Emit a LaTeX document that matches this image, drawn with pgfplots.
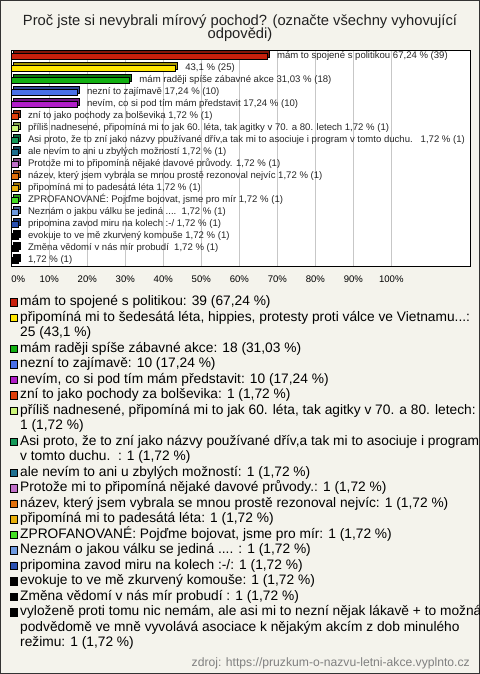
\documentclass[border=0pt]{standalone}
\usepackage{fontspec}
\setmainfont{Liberation Sans}
\usepackage{pgfplots}
\pgfplotsset{compat=1.18}
\definecolor{bg}{HTML}{F4F3EC}
\definecolor{c1}{HTML}{C8200C}
\definecolor{c2}{HTML}{FFE600}
\definecolor{c3}{HTML}{12B012}
\definecolor{c4}{HTML}{4A70E8}
\definecolor{c5}{HTML}{B01EC8}
\definecolor{c6}{HTML}{E0400C}
\definecolor{c7}{HTML}{CCF57A}
\definecolor{c8}{HTML}{159A5A}
\definecolor{c9}{HTML}{1F7090}
\definecolor{c10}{HTML}{C070C8}
\definecolor{c11}{HTML}{E0700C}
\definecolor{c12}{HTML}{E8B00C}
\definecolor{c13}{HTML}{44E024}
\definecolor{c14}{HTML}{6E9AE0}
\definecolor{c15}{HTML}{2A50B0}
\definecolor{c16}{HTML}{000000}
\begin{document}
\begin{tikzpicture}
\path[use as bounding box] (0,0) rectangle (480bp,-674bp);
\fill[bg] (0,0) rectangle (480bp,-674bp);
\draw[line width=1bp, color=black!80] (0.5bp,-0.5bp) rectangle (479.5bp,-673.5bp);
\node[anchor=base, inner sep=0pt, font=\fontsize{14.8}{15}\selectfont, text=black!87] at (240bp,-25bp) {Proč jste si nevybrali mírový pochod? (označte všechny vyhovující};
\node[anchor=base, inner sep=0pt, font=\fontsize{14.8}{15}\selectfont, text=black!87] at (240bp,-38.5bp) {odpovědi)};
\begin{axis}[
  at={(11.3bp,-50bp)}, anchor=north west,
  scale only axis, width=458.7bp, height=216bp,
  xmin=0, xmax=120.7, ymin=0.5, ymax=18.5, y dir=reverse,
  axis background/.style={fill=white},
  axis line style={draw=black, line width=0.9bp},
  xmajorgrids, grid style={draw=black!22, line width=0.8bp},
  xtick={0,10,...,100},
  xticklabels={\makebox[0pt][l]{0\%},10\%,20\%,30\%,40\%,50\%,60\%,70\%,80\%,90\%,100\%},
  xticklabel style={anchor=base, yshift=-16.5bp, inner sep=0pt, font=\fontsize{9.6}{11}\selectfont},
  ytick=\empty, major tick length=0pt,
  clip=false,
  /pgf/number format/assume math mode=true,
  legend cell align=left,
  legend style={at={(axis description cs:-0.00283,-0.1308)}, anchor=north west, draw=none, fill=none, inner sep=0pt, row sep=0pt, column sep=2.2bp, font=\fontsize{13.8}{15}\selectfont, nodes={inner sep=0pt, text height=11.5bp, text depth=4bp, anchor=west}},
  legend image code/.code={\draw[#1, draw=black, line width=0.6bp] (0bp,-3.6bp) rectangle (7.2bp,3.6bp);},
  every node near coord/.append style={anchor=west, inner sep=0pt, xshift=10bp, text height=7bp, text depth=2bp, font=\fontsize{9.6}{11}\selectfont, text=black!85},
  barstyle/.style={xbar, bar width=6.4bp, bar shift=0pt, draw=black, line width=0.5bp},
  shadow/.style={barstyle, forget plot, fill=#1!65!black, xshift=2.2bp, yshift=2.2bp},
]
% 1
\addplot[shadow=c1] coordinates {(67.24,1)};
\addplot[barstyle, fill=c1, nodes near coords={mám to spojené s politikou 67,24 \% (39)}] coordinates {(67.24,1)};
\addlegendentry{mám to spojené s politikou: 39 (67,24 \%)}
% 2
\addplot[shadow=c2] coordinates {(43.1,2)};
\addplot[barstyle, fill=c2, nodes near coords={43,1 \% (25)}] coordinates {(43.1,2)};
\addlegendentry{připomíná mi to šedesátá léta, hippies, protesty proti válce ve Vietnamu...:}
\addlegendimage{empty legend}
\addlegendentry{25 (43,1 \%)}
% 3
\addplot[shadow=c3] coordinates {(31.03,3)};
\addplot[barstyle, fill=c3, nodes near coords={mám raději spíše zábavné akce 31,03 \% (18)}] coordinates {(31.03,3)};
\addlegendentry{mám raději spíše zábavné akce: 18 (31,03 \%)}
% 4
\addplot[shadow=c4] coordinates {(17.24,4)};
\addplot[barstyle, fill=c4, nodes near coords={nezní to zajímavě 17,24 \% (10)}] coordinates {(17.24,4)};
\addlegendentry{nezní to zajímavě: 10 (17,24 \%)}
% 5
\addplot[shadow=c5] coordinates {(17.24,5)};
\addplot[barstyle, fill=c5, nodes near coords={nevím, co si pod tím mám představit 17,24 \% (10)}] coordinates {(17.24,5)};
\addlegendentry{nevím, co si pod tím mám představit: 10 (17,24 \%)}
% 6
\addplot[shadow=c6] coordinates {(1.72,6)};
\addplot[barstyle, fill=c6, nodes near coords={zní to jako pochody za bolševika 1,72 \% (1)}] coordinates {(1.72,6)};
\addlegendentry{zní to jako pochody za bolševika: 1 (1,72 \%)}
% 7
\addplot[shadow=c7] coordinates {(1.72,7)};
\addplot[barstyle, fill=c7, nodes near coords={příliš nadnesené, připomíná mi to jak 60. léta, tak agitky v 70. a 80. letech 1,72 \% (1)}] coordinates {(1.72,7)};
\addlegendentry{příliš nadnesené, připomíná mi to jak 60. léta, tak agitky v 70. a 80. letech:}
\addlegendimage{empty legend}
\addlegendentry{1 (1,72 \%)}
% 8
\addplot[shadow=c8] coordinates {(1.72,8)};
\addplot[barstyle, fill=c8, nodes near coords={Asi proto, že to zní jako názvy používané dřív,a tak mi to asociuje i program v tomto duchu.\ \ \ 1,72 \% (1)}] coordinates {(1.72,8)};
\addlegendentry{Asi proto, že to zní jako názvy používané dřív,a tak mi to asociuje i program}
\addlegendimage{empty legend}
\addlegendentry{v tomto duchu.\ \ : 1 (1,72 \%)}
% 9
\addplot[shadow=c9] coordinates {(1.72,9)};
\addplot[barstyle, fill=c9, nodes near coords={ale nevím to ani u zbylých možností 1,72 \% (1)}] coordinates {(1.72,9)};
\addlegendentry{ale nevím to ani u zbylých možností: 1 (1,72 \%)}
% 10
\addplot[shadow=c10] coordinates {(1.72,10)};
\addplot[barstyle, fill=c10, nodes near coords={Protože mi to připomíná nějaké davové průvody. 1,72 \% (1)}] coordinates {(1.72,10)};
\addlegendentry{Protože mi to připomíná nějaké davové průvody.: 1 (1,72 \%)}
% 11
\addplot[shadow=c11] coordinates {(1.72,11)};
\addplot[barstyle, fill=c11, nodes near coords={název, který jsem vybrala se mnou prostě rezonoval nejvíc 1,72 \% (1)}] coordinates {(1.72,11)};
\addlegendentry{název, který jsem vybrala se mnou prostě rezonoval nejvíc: 1 (1,72 \%)}
% 12
\addplot[shadow=c12] coordinates {(1.72,12)};
\addplot[barstyle, fill=c12, nodes near coords={připomíná mi to padesátá léta 1,72 \% (1)}] coordinates {(1.72,12)};
\addlegendentry{připomíná mi to padesátá léta: 1 (1,72 \%)}
% 13
\addplot[shadow=c13] coordinates {(1.72,13)};
\addplot[barstyle, fill=c13, nodes near coords={ZPROFANOVANÉ: Pojďme bojovat, jsme pro mír 1,72 \% (1)}] coordinates {(1.72,13)};
\addlegendentry{ZPROFANOVANÉ: Pojďme bojovat, jsme pro mír: 1 (1,72 \%)}
% 14
\addplot[shadow=c14] coordinates {(1.72,14)};
\addplot[barstyle, fill=c14, nodes near coords={Neznám o jakou válku se jediná ....\ \ 1,72 \% (1)}] coordinates {(1.72,14)};
\addlegendentry{Neznám o jakou válku se jediná .... : 1 (1,72 \%)}
% 15
\addplot[shadow=c15] coordinates {(1.72,15)};
\addplot[barstyle, fill=c15, nodes near coords={pripomina zavod miru na kolech :-/ 1,72 \% (1)}] coordinates {(1.72,15)};
\addlegendentry{pripomina zavod miru na kolech :-/: 1 (1,72 \%)}
% 16
\addplot[shadow=c16] coordinates {(1.72,16)};
\addplot[barstyle, fill=c16, nodes near coords={evokuje to ve mě zkurvený komouše 1,72 \% (1)}] coordinates {(1.72,16)};
\addlegendentry{evokuje to ve mě zkurvený komouše: 1 (1,72 \%)}
% 17
\addplot[shadow=c16] coordinates {(1.72,17)};
\addplot[barstyle, fill=c16, nodes near coords={Změna vědomí v nás mír probudí\ \ 1,72 \% (1)}] coordinates {(1.72,17)};
\addlegendentry{Změna vědomí v nás mír probudí : 1 (1,72 \%)}
% 18
\addplot[shadow=c16] coordinates {(1.72,18)};
\addplot[barstyle, fill=c16, nodes near coords={1,72 \% (1)}] coordinates {(1.72,18)};
\addlegendentry{vyloženě proti tomu nic nemám, ale asi mi to nezní nějak lákavě + to možná}
\addlegendimage{empty legend}
\addlegendentry{podvědomě ve mně vyvolává asociace k nějakým akcím z dob minulého}
\addlegendimage{empty legend}
\addlegendentry{režimu: 1 (1,72 \%)}
\end{axis}
\node[anchor=base east, inner sep=0pt, font=\fontsize{12.2}{13}\selectfont, text=black!50] at (470bp,-666bp) {zdroj: https://pruzkum-o-nazvu-letni-akce.vyplnto.cz};
\end{tikzpicture}
\end{document}
